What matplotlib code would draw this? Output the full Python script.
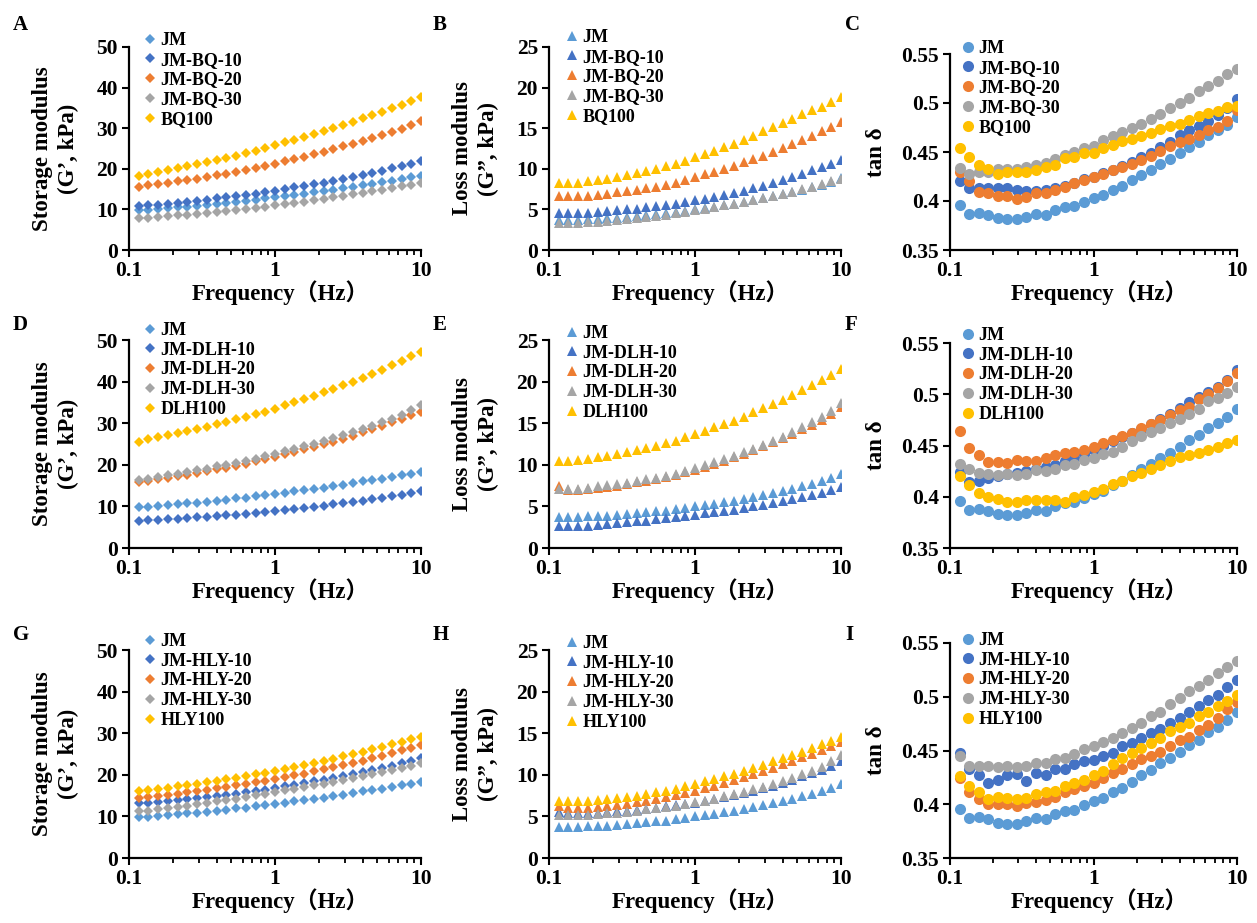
import matplotlib
matplotlib.use("Agg")
import matplotlib.pyplot as plt

plt.rcParams['font.family'] = ['Liberation Serif', 'Noto Sans CJK SC']
plt.rcParams['font.weight'] = 'bold'

# frequency sweep (Hz)
freq = [0.117, 0.136, 0.158, 0.185, 0.215, 0.251, 0.293, 0.341, 0.398, 0.464,
        0.541, 0.631, 0.736, 0.858, 1.0, 1.17, 1.36, 1.58, 1.85, 2.15,
        2.51, 2.93, 3.41, 3.98, 4.64, 5.41, 6.31, 7.36, 8.58, 10.0]

# -------- JM (shared by all three rows) --------
jm_g1 = [9.8, 9.95, 10.1, 10.3, 10.5, 10.7, 10.9, 11.1, 11.3, 11.6, 11.9, 12.1, 12.4, 12.7, 13.0,
         13.3, 13.6, 13.9, 14.2, 14.5, 14.9, 15.2, 15.6, 16.0, 16.3, 16.7, 17.1, 17.5, 17.9, 18.3]
jm_g2 = [3.7, 3.7, 3.75, 3.8, 3.85, 3.9, 4.0, 4.1, 4.2, 4.3, 4.4, 4.5, 4.65, 4.8, 5.0,
         5.15, 5.3, 5.5, 5.7, 5.9, 6.1, 6.35, 6.6, 6.85, 7.1, 7.4, 7.7, 8.0, 8.4, 8.9]
jm_tan = [0.396, 0.387, 0.388, 0.386, 0.383, 0.382, 0.382, 0.384, 0.387, 0.386, 0.391, 0.394, 0.395, 0.399, 0.403,
          0.406, 0.411, 0.415, 0.421, 0.427, 0.432, 0.438, 0.443, 0.449, 0.455, 0.460, 0.467, 0.472, 0.478, 0.486]

# -------- BQ --------
bq10_g1 = [10.8, 11.0, 11.2, 11.4, 11.6, 11.9, 12.1, 12.4, 12.7, 13.0, 13.3, 13.6, 13.9, 14.2, 14.6,
           15.0, 15.4, 15.8, 16.2, 16.6, 17.0, 17.5, 18.0, 18.5, 19.0, 19.5, 20.1, 20.7, 21.3, 22.0]
bq20_g1 = [15.6, 15.9, 16.2, 16.5, 16.9, 17.2, 17.6, 18.0, 18.4, 18.8, 19.3, 19.7, 20.2, 20.7, 21.3,
           21.8, 22.4, 23.0, 23.6, 24.2, 24.8, 25.5, 26.2, 26.9, 27.6, 28.3, 29.1, 29.9, 30.8, 31.7]
bq30_g1 = [7.8, 7.9, 8.1, 8.3, 8.5, 8.7, 8.9, 9.1, 9.4, 9.6, 9.9, 10.1, 10.4, 10.7, 11.0,
           11.3, 11.6, 11.9, 12.3, 12.6, 13.0, 13.3, 13.7, 14.1, 14.5, 14.9, 15.3, 15.7, 16.1, 16.6]
bq100_g1 = [18.3, 18.7, 19.1, 19.6, 20.1, 20.6, 21.1, 21.6, 22.1, 22.7, 23.2, 23.8, 24.4, 25.1, 25.8,
            26.5, 27.2, 27.9, 28.6, 29.3, 30.0, 30.8, 31.6, 32.4, 33.2, 34.0, 34.9, 35.8, 36.7, 37.7]

bq10_g2 = [4.5, 4.5, 4.55, 4.6, 4.7, 4.8, 4.9, 5.0, 5.1, 5.25, 5.4, 5.55, 5.7, 5.9, 6.1,
           6.3, 6.55, 6.8, 7.05, 7.3, 7.6, 7.9, 8.25, 8.6, 9.0, 9.4, 9.8, 10.2, 10.6, 11.1]
bq20_g2 = [6.6, 6.6, 6.6, 6.7, 6.8, 6.95, 7.1, 7.25, 7.4, 7.6, 7.8, 8.0, 8.3, 8.6, 9.0,
           9.3, 9.65, 10.0, 10.4, 10.8, 11.2, 11.6, 12.1, 12.6, 13.1, 13.6, 14.1, 14.6, 15.2, 15.8]
bq30_g2 = [3.3, 3.3, 3.35, 3.4, 3.5, 3.6, 3.7, 3.8, 3.95, 4.05, 4.2, 4.35, 4.5, 4.7, 4.9,
           5.1, 5.3, 5.5, 5.7, 5.9, 6.15, 6.4, 6.65, 6.9, 7.2, 7.5, 7.8, 8.1, 8.45, 8.8]
bq100_g2 = [8.2, 8.2, 8.3, 8.45, 8.6, 8.8, 9.0, 9.25, 9.5, 9.75, 10.0, 10.3, 10.6, 11.0, 11.4,
            11.8, 12.2, 12.7, 13.1, 13.6, 14.1, 14.6, 15.1, 15.6, 16.1, 16.7, 17.2, 17.6, 18.2, 18.8]

bq10_tan = [0.420, 0.413, 0.413, 0.413, 0.413, 0.413, 0.411, 0.410, 0.410, 0.411, 0.413, 0.415, 0.418, 0.422, 0.425,
            0.429, 0.432, 0.436, 0.440, 0.445, 0.449, 0.455, 0.460, 0.467, 0.472, 0.477, 0.482, 0.488, 0.495, 0.504]
bq20_tan = [0.430, 0.420, 0.409, 0.408, 0.405, 0.405, 0.402, 0.404, 0.408, 0.408, 0.411, 0.414, 0.418, 0.421, 0.424,
            0.428, 0.432, 0.435, 0.438, 0.442, 0.446, 0.451, 0.456, 0.460, 0.463, 0.467, 0.472, 0.476, 0.482, 0.493]
bq30_tan = [0.434, 0.428, 0.430, 0.430, 0.433, 0.433, 0.433, 0.435, 0.437, 0.439, 0.443, 0.447, 0.450, 0.454, 0.456,
            0.462, 0.466, 0.470, 0.474, 0.479, 0.484, 0.489, 0.495, 0.500, 0.505, 0.512, 0.517, 0.522, 0.530, 0.535]
bq100_tan = [0.454, 0.445, 0.437, 0.433, 0.428, 0.430, 0.430, 0.430, 0.432, 0.435, 0.437, 0.444, 0.445, 0.449, 0.449,
             0.454, 0.457, 0.461, 0.463, 0.466, 0.469, 0.473, 0.477, 0.479, 0.483, 0.487, 0.490, 0.492, 0.496, 0.497]

# -------- DLH --------
dlh10_g1 = [6.6, 6.7, 6.8, 6.9, 7.05, 7.2, 7.35, 7.5, 7.7, 7.9, 8.05, 8.25, 8.45, 8.7, 8.95,
            9.2, 9.45, 9.7, 9.95, 10.2, 10.5, 10.8, 11.1, 11.4, 11.7, 12.0, 12.4, 12.8, 13.3, 13.8]
dlh20_g1 = [15.8, 16.1, 16.5, 16.8, 17.2, 17.6, 18.0, 18.4, 18.9, 19.3, 19.8, 20.3, 20.8, 21.4, 21.9,
            22.5, 23.1, 23.7, 24.3, 24.9, 25.6, 26.3, 27.0, 27.8, 28.6, 29.4, 30.2, 31.0, 31.9, 32.8]
dlh30_g1 = [16.4, 16.7, 17.1, 17.5, 17.9, 18.3, 18.7, 19.1, 19.6, 20.0, 20.5, 21.0, 21.5, 22.1, 22.7,
            23.2, 23.8, 24.4, 25.0, 25.7, 26.4, 27.1, 27.8, 28.6, 29.4, 30.2, 31.1, 32.0, 33.1, 34.4]
dlh100_g1 = [25.6, 26.1, 26.6, 27.1, 27.6, 28.1, 28.7, 29.2, 29.8, 30.3, 30.9, 31.5, 32.1, 32.8, 33.5,
             34.3, 35.0, 35.8, 36.6, 37.4, 38.2, 39.1, 40.0, 40.9, 41.9, 42.9, 43.9, 45.0, 46.1, 47.2]

dlh10_g2 = [2.6, 2.6, 2.65, 2.7, 2.8, 2.9, 3.0, 3.1, 3.2, 3.3, 3.45, 3.55, 3.7, 3.85, 4.0,
            4.15, 4.3, 4.45, 4.6, 4.8, 5.0, 5.2, 5.4, 5.6, 5.85, 6.1, 6.35, 6.6, 6.95, 7.3]
dlh20_g2 = [7.4, 7.0, 6.95, 7.05, 7.2, 7.35, 7.5, 7.7, 7.9, 8.1, 8.3, 8.55, 8.8, 9.1, 9.4,
            9.75, 10.1, 10.5, 10.9, 11.3, 11.75, 12.2, 12.7, 13.2, 13.7, 14.25, 14.8, 15.4, 16.1, 16.9]
dlh30_g2 = [7.1, 7.1, 7.15, 7.25, 7.4, 7.55, 7.7, 7.85, 8.05, 8.25, 8.45, 8.7, 8.95, 9.25, 9.6,
            9.95, 10.3, 10.7, 11.1, 11.5, 11.95, 12.4, 12.9, 13.4, 13.95, 14.5, 15.1, 15.7, 16.5, 17.4]
dlh100_g2 = [10.5, 10.5, 10.6, 10.7, 10.9, 11.1, 11.3, 11.5, 11.8, 12.0, 12.3, 12.6, 12.9, 13.3, 13.7,
             14.1, 14.5, 14.9, 15.3, 15.8, 16.3, 16.8, 17.3, 17.8, 18.4, 19.0, 19.6, 20.2, 20.8, 21.5]

dlh10_tan = [0.424, 0.414, 0.415, 0.418, 0.420, 0.422, 0.423, 0.425, 0.427, 0.429, 0.431, 0.435, 0.438, 0.442, 0.446,
             0.450, 0.454, 0.458, 0.462, 0.466, 0.471, 0.476, 0.481, 0.487, 0.492, 0.497, 0.502, 0.507, 0.514, 0.524]
dlh20_tan = [0.464, 0.448, 0.441, 0.434, 0.434, 0.433, 0.436, 0.435, 0.435, 0.438, 0.441, 0.443, 0.444, 0.446, 0.449,
             0.452, 0.455, 0.459, 0.462, 0.467, 0.471, 0.475, 0.480, 0.485, 0.488, 0.495, 0.500, 0.506, 0.513, 0.521]
dlh30_tan = [0.432, 0.427, 0.423, 0.422, 0.421, 0.422, 0.421, 0.422, 0.426, 0.425, 0.427, 0.431, 0.432, 0.436, 0.438,
             0.442, 0.444, 0.449, 0.454, 0.459, 0.463, 0.467, 0.472, 0.476, 0.481, 0.486, 0.493, 0.496, 0.501, 0.507]
dlh100_tan = [0.420, 0.411, 0.404, 0.400, 0.398, 0.395, 0.395, 0.397, 0.397, 0.397, 0.397, 0.395, 0.400, 0.402, 0.405,
              0.408, 0.412, 0.415, 0.420, 0.423, 0.427, 0.431, 0.435, 0.439, 0.441, 0.443, 0.446, 0.449, 0.452, 0.455]

# -------- HLY --------
hly10_g1 = [13.2, 13.3, 13.5, 13.7, 13.9, 14.1, 14.4, 14.6, 14.9, 15.2, 15.5, 15.8, 16.1, 16.4, 16.8,
            17.2, 17.6, 18.0, 18.4, 18.8, 19.3, 19.7, 20.2, 20.7, 21.2, 21.7, 22.2, 22.8, 23.4, 24.0]
hly20_g1 = [14.4, 14.6, 14.9, 15.2, 15.5, 15.8, 16.1, 16.4, 16.8, 17.1, 17.5, 17.8, 18.2, 18.6, 19.0,
            19.4, 19.9, 20.3, 20.8, 21.3, 21.8, 22.3, 22.9, 23.4, 24.0, 24.6, 25.2, 25.9, 26.5, 27.2]
hly30_g1 = [11.2, 11.4, 11.7, 12.0, 12.3, 12.6, 12.9, 13.3, 13.6, 14.0, 14.3, 14.7, 15.1, 15.5, 15.9,
            16.3, 16.7, 17.1, 17.5, 17.9, 18.3, 18.8, 19.2, 19.7, 20.2, 20.7, 21.2, 21.7, 22.2, 22.8]
hly100_g1 = [16.0, 16.3, 16.6, 16.9, 17.2, 17.5, 17.8, 18.2, 18.5, 18.9, 19.3, 19.7, 20.1, 20.5, 21.0,
             21.4, 21.9, 22.4, 22.9, 23.4, 23.9, 24.4, 25.0, 25.6, 26.2, 26.8, 27.4, 28.0, 28.6, 29.2]

hly10_g2 = [5.5, 5.4, 5.4, 5.4, 5.45, 5.5, 5.6, 5.7, 5.8, 5.9, 6.05, 6.2, 6.35, 6.5, 6.65,
            6.85, 7.05, 7.3, 7.55, 7.8, 8.1, 8.4, 8.7, 9.05, 9.4, 9.8, 10.2, 10.6, 11.1, 11.6]
hly20_g2 = [6.2, 6.0, 6.0, 6.05, 6.15, 6.25, 6.4, 6.55, 6.7, 6.9, 7.1, 7.3, 7.55, 7.8, 8.1,
            8.4, 8.7, 9.0, 9.35, 9.7, 10.05, 10.45, 10.85, 11.25, 11.7, 12.1, 12.55, 13.0, 13.5, 14.0]
hly30_g2 = [5.2, 5.15, 5.15, 5.2, 5.25, 5.35, 5.45, 5.55, 5.7, 5.85, 6.0, 6.15, 6.3, 6.5, 6.7,
            6.9, 7.15, 7.4, 7.65, 7.95, 8.25, 8.55, 8.9, 9.25, 9.65, 10.05, 10.5, 10.95, 11.6, 12.4]
hly100_g2 = [6.9, 6.85, 6.85, 6.9, 7.0, 7.1, 7.2, 7.35, 7.5, 7.7, 7.9, 8.1, 8.3, 8.6, 8.9,
             9.2, 9.5, 9.8, 10.15, 10.5, 10.85, 11.2, 11.6, 12.0, 12.4, 12.8, 13.2, 13.7, 14.1, 14.6]

hly10_tan = [0.448, 0.433, 0.427, 0.420, 0.423, 0.427, 0.428, 0.422, 0.429, 0.427, 0.433, 0.433, 0.437, 0.440, 0.441,
             0.445, 0.448, 0.454, 0.457, 0.462, 0.466, 0.470, 0.476, 0.480, 0.486, 0.491, 0.497, 0.502, 0.509, 0.516]
hly20_tan = [0.424, 0.411, 0.405, 0.400, 0.400, 0.400, 0.398, 0.401, 0.402, 0.404, 0.407, 0.411, 0.414, 0.417, 0.420,
             0.424, 0.429, 0.433, 0.437, 0.442, 0.445, 0.449, 0.454, 0.460, 0.463, 0.469, 0.474, 0.480, 0.489, 0.495]
hly30_tan = [0.445, 0.436, 0.436, 0.436, 0.435, 0.436, 0.435, 0.436, 0.438, 0.438, 0.442, 0.443, 0.447, 0.451, 0.454,
             0.458, 0.462, 0.466, 0.471, 0.476, 0.482, 0.486, 0.493, 0.499, 0.505, 0.510, 0.516, 0.522, 0.528, 0.533]
hly100_tan = [0.426, 0.417, 0.411, 0.405, 0.407, 0.406, 0.405, 0.406, 0.410, 0.411, 0.412, 0.417, 0.420, 0.423, 0.427,
              0.431, 0.437, 0.443, 0.448, 0.452, 0.457, 0.462, 0.468, 0.472, 0.476, 0.482, 0.486, 0.491, 0.496, 0.502]

colors = ['#5B9BD5', '#4472C4', '#ED7D31', '#A5A5A5', '#FFC000']

W, H = 1257, 923
fig = plt.figure(figsize=(W / 100, H / 100), dpi=100)

# left, right / top, bottom in pixels (image coords)
cols = [(129, 421), (549, 841), (950, 1237)]
rows = [(47, 250), (340, 548), (650, 858)]

groups = [
    ('BQ', [bq10_g1, bq20_g1, bq30_g1, bq100_g1],
           [bq10_g2, bq20_g2, bq30_g2, bq100_g2],
           [bq10_tan, bq20_tan, bq30_tan, bq100_tan]),
    ('DLH', [dlh10_g1, dlh20_g1, dlh30_g1, dlh100_g1],
            [dlh10_g2, dlh20_g2, dlh30_g2, dlh100_g2],
            [dlh10_tan, dlh20_tan, dlh30_tan, dlh100_tan]),
    ('HLY', [hly10_g1, hly20_g1, hly30_g1, hly100_g1],
            [hly10_g2, hly20_g2, hly30_g2, hly100_g2],
            [hly10_tan, hly20_tan, hly30_tan, hly100_tan]),
]

letters = 'ABCDEFGHI'
tick_fs = 15.5
label_fs = 16.5
leg_fs = 13

for r, (name, g1s, g2s, tans) in enumerate(groups):
    labels = ['JM', f'JM-{name}-10', f'JM-{name}-20', f'JM-{name}-30', f'{name}100']
    for c in range(3):
        top, bot = rows[r]
        if c == 2:
            top += [7, 3, -7][r]
        left, right = cols[c]
        ax = fig.add_axes([left / W, 1 - bot / H, (right - left) / W, (bot - top) / H])

        if c == 0:
            series = [jm_g1] + g1s
            marker, ms = 'D', 5.6
            ax.set_ylim(0, 50)
            ax.set_yticks([0, 10, 20, 30, 40, 50])
            ax.set_ylabel('Storage modulus\n(G’, kPa)', fontsize=label_fs, fontweight='bold', linespacing=1.3)
        elif c == 1:
            series = [jm_g2] + g2s
            marker, ms = '^', 7.5
            ax.set_ylim(0, 25)
            ax.set_yticks([0, 5, 10, 15, 20, 25])
            ax.set_ylabel('Loss modulus\n(G”, kPa)', fontsize=label_fs, fontweight='bold', linespacing=1.3)
        else:
            series = [jm_tan] + tans
            marker, ms = 'o', 8
            ax.set_ylim(0.35, 0.55)
            ax.set_yticks([0.35, 0.4, 0.45, 0.5, 0.55], labels=['0.35', '0.4', '0.45', '0.5', '0.55'])
            ax.set_ylabel('tan δ', fontsize=label_fs, fontweight='bold')

        for vals, col, lab in zip(series, colors, labels):
            ax.plot(freq, vals, linestyle='none', marker=marker, ms=ms, color=col,
                    markeredgewidth=0, label=lab)

        ax.set_xscale('log')
        ax.set_xlim(0.1, 10)
        ax.set_xticks([0.1, 1, 10], labels=['0.1', '1', '10'])
        ax.set_xlabel('Frequency（Hz）', fontsize=label_fs, fontweight='bold')

        for s in ['top', 'right']:
            ax.spines[s].set_visible(False)
        for s in ['left', 'bottom']:
            ax.spines[s].set_linewidth(1.6)
        ax.tick_params(axis='both', which='major', direction='out', length=5, width=1.5,
                       labelsize=tick_fs, pad=3)
        ax.tick_params(axis='x', which='minor', direction='out', length=3.5, width=1.3)
        ax.tick_params(axis='y', which='minor', left=False)
        for t in ax.get_xticklabels() + ax.get_yticklabels():
            t.set_fontweight('bold')

        # label placement
        ax.yaxis.label.set_va('center')
        if c == 2:
            ax.yaxis.set_label_coords(-0.255, 0.5)
        else:
            ax.yaxis.set_label_coords(-0.25, 0.5)
        ax.xaxis.label.set_va('center')
        ax.xaxis.set_label_coords(0.52, -43 / (bot - top))

        leg_x = [150, 572, 968][c] - 7
        leg_y = [[42, 39, 50], [332, 335, 337], [643, 645, 642]][r][c] - 10
        ax.legend(loc='upper left', bbox_to_anchor=(leg_x / W, 1 - leg_y / H),
                  bbox_transform=fig.transFigure, frameon=False,
                  handlelength=0.75, handletextpad=0.2, labelspacing=0.15,
                  borderpad=0, borderaxespad=0, prop={'weight': 'bold', 'size': leg_fs})

        lx = [13, 433, 845][c]
        ly = [25, 325, 635][r]
        fig.text(lx / W, 1 - ly / H, letters[r * 3 + c], fontsize=15, fontweight='bold',
                 ha='left', va='center')

fig.savefig('out.png', dpi=100)
